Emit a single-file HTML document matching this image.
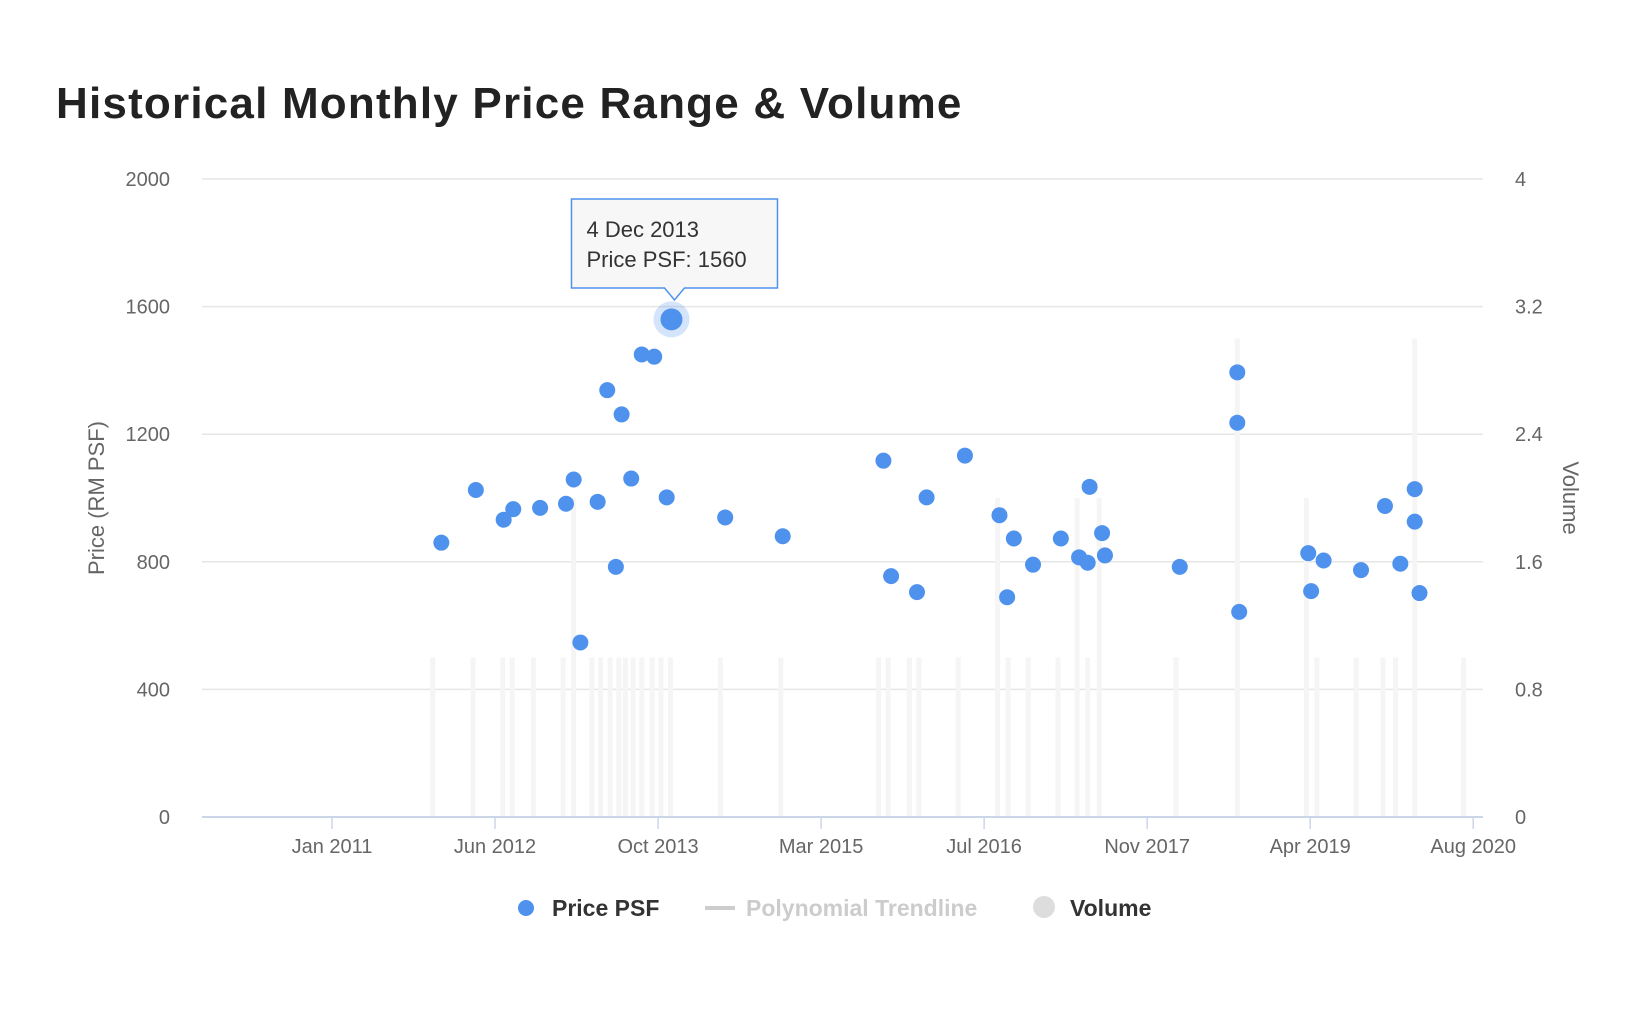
<!DOCTYPE html>
<html><head><meta charset="utf-8">
<style>
body{margin:0;background:#fff;width:1650px;height:1035px;overflow:hidden;font-family:"Liberation Sans",sans-serif;}
svg{position:absolute;left:0;top:0;}
</style></head>
<body>
<svg id="chart" width="1650" height="1035">
<text x="56" y="118" font-size="44" font-weight="bold" fill="#222" letter-spacing="1.2">Historical Monthly Price Range &amp; Volume</text>
<g id="grid"></g><g id="vol"></g><g id="pts"></g><g id="axes"></g>
<text transform="translate(104,498) rotate(-90)" text-anchor="middle" font-size="22" fill="#666">Price (RM PSF)</text>
<text transform="translate(1563,498) rotate(90)" text-anchor="middle" font-size="22" fill="#666">Volume</text>
<g>
<g><circle cx="526" cy="908" r="8" fill="#4e92ee"/><text x="552" y="916" font-size="23" font-weight="bold" fill="#333">Price PSF</text></g>
<g><rect x="705" y="906" width="30" height="4" fill="#ccc"/><text x="746" y="916" font-size="23" font-weight="bold" fill="#ccc">Polynomial Trendline</text></g>
<g><circle cx="1044" cy="907" r="11" fill="#ddd"/><text x="1070" y="916" font-size="23" font-weight="bold" fill="#333">Volume</text></g>
</g>
<g id="tip"></g>
</svg>
<script>
const priceMonths=[11.4,15,17.9,18.9,21.7,24.4,25.2,25.9,27.7,28.7,29.6,30.2,31.2,32.3,33.6,34.9,35.4,41,47,57.5,58.3,61,62,66,69.6,70.4,71.1,73.1,76,77.9,78.8,79,80.3,80.6,88.4,94.4,94.4,94.6,101.8,102.1,103.4,107.3,109.8,111.4,112.9,112.9,113.4];
const priceValues=[860,1025,932,965,969,982,1058,547,988,1338,784,1262,1061,1450,1443,1002,1560,939,880,1117,755,705,1002,1133,946,689,873,791,873,814,797,1035,890,820,784,1394,1236,643,827,708,804,774,975,794,1028,926,702];
const volMonths=[10.5,14.7,17.8,18.8,21,24.1,25.2,27.1,28,29,29.9,30.6,31.4,32.3,33.4,34.3,35.3,40.5,46.8,57,58,60.2,61.2,65.3,69.4,70.5,72.6,75.7,77.7,78.8,80,88,94.4,101.6,102.7,106.8,109.6,110.9,112.9,118];
const volValues=[1,1,1,1,1,1,2,1,1,1,1,1,1,1,1,1,1,1,1,1,1,1,1,1,2,1,1,1,2,1,2,1,3,2,1,1,1,1,3,1];
const yTicks=[0,400,800,1200,1600,2000];
const vTicks=["0","0.8","1.6","2.4","3.2","4"];
const xTickLabels=["Jan 2011","Jun 2012","Oct 2013","Mar 2015","Jul 2016","Nov 2017","Apr 2019","Aug 2020"];
const xTickMonths=[0,17,34,51,68,85,102,119];
const highlightIndex=16;
const NS="http://www.w3.org/2000/svg";
const L=202,R=1483,T=179,B=817;
const x=m=>332+m*9.59;
const y=v=>B-(v/2000)*(B-T);
const yv=v=>B-(v/4)*(B-T);
function mk(tag,attrs,parent){const e=document.createElementNS(NS,tag);for(const k in attrs)e.setAttribute(k,attrs[k]);parent.appendChild(e);return e;}
const grid=document.getElementById('grid'),axes=document.getElementById('axes'),vol=document.getElementById('vol'),pts=document.getElementById('pts');
yTicks.forEach((t,i)=>{
 if(i>0){const g=mk('line',{x1:L,x2:R,y1:y(t),y2:y(t),stroke:'#e6e6e6','stroke-width':1.5},grid);
 
 }
 const a=mk('text',{x:170,y:y(t)+7,'text-anchor':'end','font-size':20,fill:'#666'},axes);a.textContent=t;
 
 
 const b=mk('text',{x:1515,y:y(t)+7,'font-size':20,fill:'#666'},axes);b.textContent=vTicks[i];
 
 
});
const ax=mk('line',{x1:L,x2:R,y1:B,y2:B,stroke:'#ccd6eb','stroke-width':2},axes);


xTickLabels.forEach((s,i)=>{
 const xx=x(xTickMonths[i]);
 const tk=mk('line',{x1:xx,x2:xx,y1:B,y2:B+12,stroke:'#ccd6eb','stroke-width':1.5},axes);
 
 
 const t=mk('text',{x:xx,y:B+36,'text-anchor':'middle','font-size':20,fill:'#666'},axes);t.textContent=s;
 
 
});
volMonths.forEach((m,i)=>{
 const r=mk('rect',{x:x(m)-2.5,y:yv(volValues[i]),width:5,height:B-yv(volValues[i]),fill:'#f5f5f5'},vol);
 
 
});
priceMonths.forEach((m,i)=>{
 if(i===highlightIndex){const h=mk('circle',{cx:x(m),cy:y(priceValues[i]),r:18,fill:'#4e92ee','fill-opacity':0.25},pts);
 
 }
 const c=mk('circle',{cx:x(m),cy:y(priceValues[i]),r:i===highlightIndex?11:8,fill:'#4e92ee'},pts);
 
 
});
const tip=document.getElementById('tip');
const px=x(priceMonths[highlightIndex]),py=y(priceValues[highlightIndex]);
const bx=px-100,by=199,bw=206,bh=89;
mk('path',{d:`M${bx} ${by}h${bw}v${bh}h${-(bw/2-10)}l-10 12l-10 -12h${-(bw/2-10)}z`,fill:'#f7f7f7',stroke:'#4e92ee','stroke-width':1.5},tip);
const t1=mk('text',{x:bx+15,y:by+38,'font-size':22,fill:'#333'},tip);t1.textContent='4 Dec 2013';
const t2=mk('text',{x:bx+15,y:by+68,'font-size':22,fill:'#333'},tip);t2.textContent='Price PSF: '+priceValues[highlightIndex];
</script>
</body></html>
